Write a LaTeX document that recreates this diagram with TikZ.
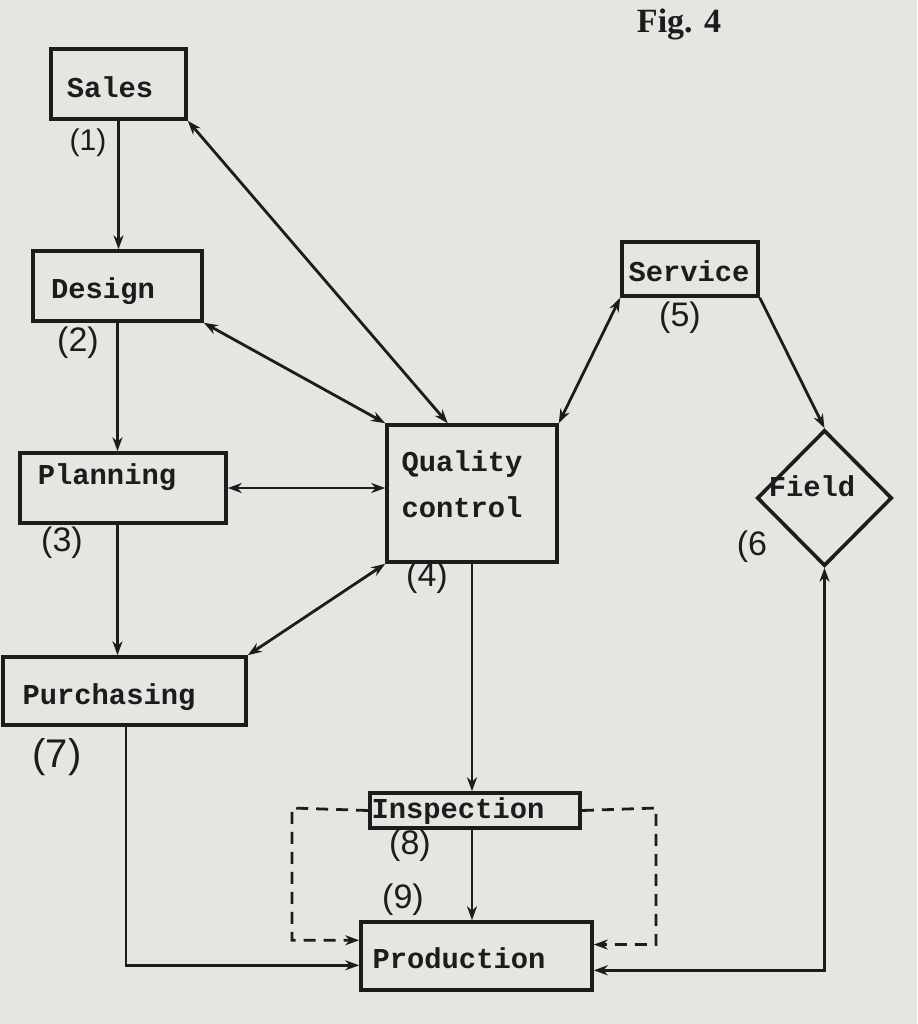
\documentclass[tikz,border=0pt]{standalone}
\usepackage{fontspec}
\setmainfont{Liberation Serif}
\newfontfamily\typew{Liberation Mono}
\newfontfamily\hand{Liberation Sans}
\usetikzlibrary{arrows.meta,calc,shapes.geometric}
\definecolor{paper}{RGB}{229,229,226}
\definecolor{ink}{RGB}{28,28,28}
\begin{document}
\begin{tikzpicture}[x=0.5pt,y=-0.5pt,
  box/.style={draw=ink,line width=1.8pt,rectangle,inner sep=0pt},
  lbl/.style={font=\typew\bfseries\fontsize{14.4}{17}\selectfont,text=ink,inner sep=0pt},
  num/.style={font=\hand\fontsize{17}{20}\selectfont,text=ink,inner sep=0pt},
  conn/.style={draw=ink,line width=1.4pt},
  tip/.style={-{Stealth[length=7pt,width=5pt]}},
  tips/.style={{Stealth[length=7pt,width=5pt]}-{Stealth[length=7pt,width=5pt]}},
  dashline/.style={dash pattern=on 6pt off 4pt}
]
\fill[paper] (0,0) rectangle (917,1024);
\useasboundingbox (0,0) rectangle (917,1024);

\node[font=\bfseries\fontsize{17}{20}\selectfont,text=ink] (fig) at (679,24) {Fig. 4};

% boxes
\node[box,minimum width=67.5pt,minimum height=35pt] (sales) at (118.5,84) {};
\node[box,minimum width=84.5pt,minimum height=35pt] (design) at (117.5,286) {};
\node[box,minimum width=103pt,minimum height=35pt] (planning) at (123,488) {};
\node[box,minimum width=121.5pt,minimum height=34pt] (purchasing) at (124.5,691) {};
\node[box,minimum width=85pt,minimum height=68.5pt] (qc) at (472,493.5) {};
\node[box,minimum width=68pt,minimum height=27pt] (service) at (690,269) {};
\node[draw=ink,line width=1.8pt,diamond,inner sep=0pt,minimum width=67.5pt,minimum height=68pt] (field) at (824.5,498) {};
\node[box,minimum width=105pt,minimum height=17.5pt] (inspection) at (475,810.5) {};
\node[box,minimum width=115.5pt,minimum height=34pt] (production) at (476.5,956) {};

% texts
\node[lbl] (salesT) at (110,87) {Sales};
\node[lbl] (designT) at (103,291) {Design};
\node[lbl] (planningT) at (107,477) {Planning};
\node[lbl] (purchasingT) at (109,697) {Purchasing};
\node[lbl] (qcT1) at (462,464) {Quality};
\node[lbl] (qcT2) at (462,507) {control};
\node[lbl] (serviceT) at (689,271) {Service};
\node[lbl] (fieldT) at (812,486) {Field};
\node[lbl] (inspectionT) at (458,811) {Inspection};
\node[lbl] (productionT) at (459,958) {Production};

% numbers
\node[num,font=\hand\fontsize{15}{18}\selectfont] (n1) at (88,143) {(1)};
\node[num] (n2) at (78,343) {(2)};
\node[num] (n3) at (62,543) {(3)};
\node[num] (n4) at (427,578) {(4)};
\node[num] (n5) at (680,318) {(5)};
\node[num] (n6) at (752,547) {(6};
\node[num,font=\hand\fontsize{20}{24}\selectfont] (n7) at (57,757) {(7)};
\node[num] (n8) at (410,846) {(8)};
\node[num] (n9) at (403,900) {(9)};

% helper coordinates
\coordinate (qcN) at ($(qc.north west)!0.36!(qc.north east)$);
\coordinate (prodL1) at ($(production.south west)!0.37!(production.north west)$);
\coordinate (prodL2) at ($(production.south west)!0.72!(production.north west)$);
\coordinate (prodR1) at ($(production.south east)!0.30!(production.north east)$);
\coordinate (prodR2) at ($(production.south east)!0.66!(production.north east)$);
\coordinate (dl) at (292,808);
\coordinate (dr) at (656,808);

% connectors
\draw[conn,tip] (sales.south) -- (sales.south |- design.north);
\draw[conn,tips] (sales.south east) -- (qcN);
\draw[conn,tips] (design.south east) -- (qc.north west);
\draw[conn,tip] (design.south) -- (design.south |- planning.north);
\draw[conn,tips] (planning.east) -- (planning.east -| qc.west);
\draw[conn,tip] (design.south |- planning.south) -- (design.south |- purchasing.north);
\draw[conn,tips] (qc.south west) -- (purchasing.north east);
\draw[conn,tips] (qc.north east) -- (service.south west);
\draw[conn,tip] (service.south east) -- (field.north);
\draw[conn,tip] (qc.south) -- (qc.south |- inspection.north);
\draw[conn,tip] (qc.south |- inspection.south) -- (qc.south |- production.north);
\draw[conn,tip] ($(purchasing.south)+(1.5,0)$) |- (prodL1);
\draw[conn,tips] (prodR1) -| (field.south);
\draw[conn,dashline,tip] (inspection.west) -- (dl) |- (prodL2);
\draw[conn,dashline,tip] (inspection.east) -- (dr) |- (prodR2);
\end{tikzpicture}
\end{document}
